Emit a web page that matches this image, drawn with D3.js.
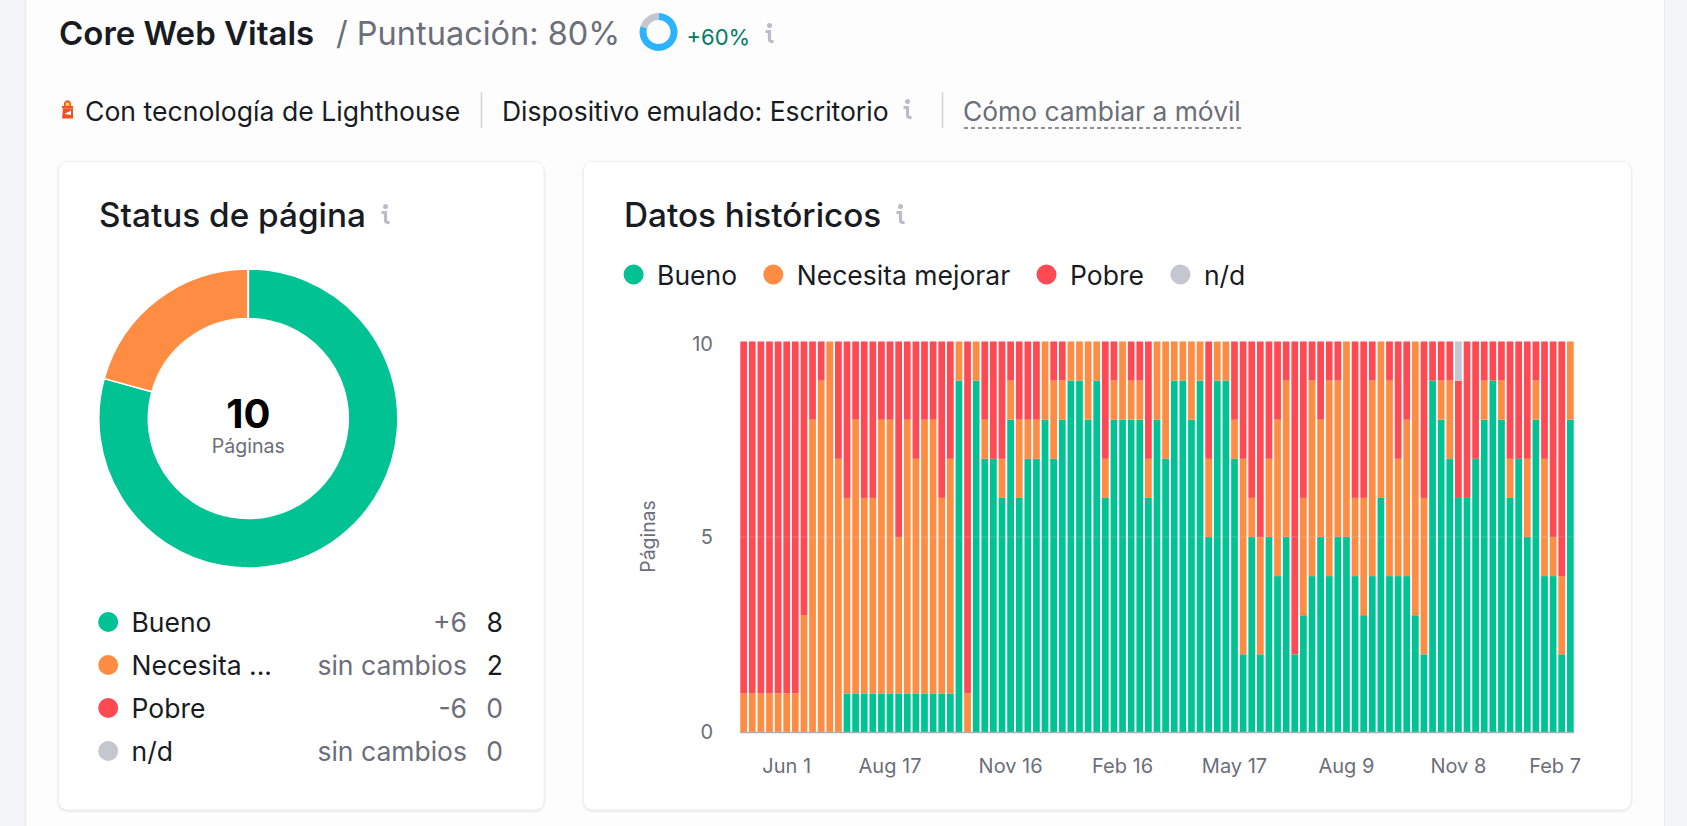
<!DOCTYPE html>
<html lang="es">
<head>
<meta charset="UTF-8">
<title>Core Web Vitals</title>
<script src="https://cdn.jsdelivr.net/npm/d3@7"></script>
<style>
	html, body { margin: 0; padding: 0; background: #f4f5f9; overflow: hidden; }
	text { font-family: Inter, "Noto Sans", sans-serif; }
	.axis path, .axis line { display: none; }
	.axis text { font-family: Inter, sans-serif; font-size: 20px; fill: #6c6e79; }
</style>
</head>
<body>
<script>
// historic stacked bars, one value per week
var weeks = d3.range(97);
var bueno = [0,0,0,0,0,0,0,0,0,0,0,0,1,1,1,1,1,1,1,1,1,1,1,1,1,9,0,9,7,7,6,8,6,7,7,8,7,8,9,9,8,9,6,8,8,8,8,6,8,7,9,9,8,9,5,9,9,7,2,5,2,5,4,5,2,3,4,5,4,5,5,4,3,4,6,4,4,4,3,2,9,8,7,6,6,7,8,9,8,6,7,5,8,4,4,2,8];
var necesita = [1,1,1,1,1,1,1,3,8,9,10,7,5,7,5,5,7,7,4,7,6,7,7,5,6,1,1,1,1,0,1,1,2,1,1,2,2,1,1,1,2,1,1,1,2,1,1,1,2,3,1,1,2,1,2,1,1,1,5,1,3,2,4,4,0,3,5,3,5,4,5,2,3,5,4,5,3,4,7,4,0,1,2,0,0,0,1,0,1,1,0,2,1,3,1,2,2];
var pobre = [9,9,9,9,9,9,9,7,2,1,0,3,4,2,4,4,2,2,5,2,3,2,2,4,3,0,9,0,2,3,3,1,2,2,2,0,1,1,0,0,0,0,3,1,0,1,1,3,0,0,0,0,0,0,3,0,0,2,3,4,5,3,2,1,8,4,1,2,1,1,0,4,4,1,0,1,3,2,0,4,1,1,1,3,4,3,1,1,1,3,3,3,1,3,5,6,0];
var nd = [0,0,0,0,0,0,0,0,0,0,0,0,0,0,0,0,0,0,0,0,0,0,0,0,0,0,0,0,0,0,0,0,0,0,0,0,0,0,0,0,0,0,0,0,0,0,0,0,0,0,0,0,0,0,0,0,0,0,0,0,0,0,0,0,0,0,0,0,0,0,0,0,0,0,0,0,0,0,0,0,0,0,0,1,0,0,0,0,0,0,0,0,0,0,0,0,0];

var tickWeeks = [5, 17, 31, 44, 57, 70, 83, 94];
var tickLabels = ['Jun 1', 'Aug 17', 'Nov 16', 'Feb 16', 'May 17', 'Aug 9', 'Nov 8', 'Feb 7'];
var yTicks = [0, 5, 10];

// page status donut + its table
var statusNames = ['Bueno', 'Necesita ...', 'Pobre', 'n/d'];
var statusChange = ['+6', 'sin cambios', '-6', 'sin cambios'];
var statusCount = [8, 2, 0, 0];
// the drawn ring is not exactly 80/20, this is what the picture shows
var statusShare = [79.3, 20.7, 0, 0];
var legendNames = ['Bueno', 'Necesita mejorar', 'Pobre', 'n/d'];
var seriesColors = ['#00c292', '#ff8c43', '#ff4953', '#c4c7cf'];
var scoreParts = [80, 20];

var ink = '#191b23', grey = '#6c6e79', iconGrey = '#b9bcc9';

var svg = d3.select('body').append('svg')
	.attr('width', 1687)
	.attr('height', 826)
	.style('display', 'block');

function label(parent, str, x, y, size, color, weight, anchor) {
	return parent.append('text')
		.attr('x', x).attr('y', y)
		.attr('font-size', size)
		.attr('fill', color)
		.attr('font-weight', weight || 400)
		.attr('text-anchor', anchor || 'start')
		.text(str);
}

// little "i" hint icon
function info(x, y) {
	var g = svg.append('g').attr('transform', 'translate(' + x + ',' + y + ')')
		.attr('fill', 'none').attr('stroke', iconGrey);
	g.append('circle').attr('cx', 0.5).attr('cy', -7.5).attr('r', 2.5).attr('fill', iconGrey).attr('stroke', 'none');
	g.append('path').attr('stroke-width', 3.2)
		.attr('d', 'M-3.5,-1.5H0.5V6.5Q0.5,8.7 4.5,8.7');
}

function card(x, y, w, h) {
	svg.append('rect')
		.attr('x', x).attr('y', y).attr('width', w).attr('height', h)
		.attr('rx', 9)
		.attr('fill', '#fff')
		.attr('stroke', '#eff0f3')
		.style('filter', 'drop-shadow(0 1px 1px rgba(30,35,60,.12))');
}

// page background panel
svg.append('rect').attr('x', 26).attr('y', -10).attr('width', 1638).attr('height', 850).attr('fill', '#fdfdfe')
	.style('filter', 'drop-shadow(0 0 1px rgba(30,35,60,.15))');

// header
label(svg, 'Core Web Vitals', 59, 45, 33, ink, 600);
label(svg, '/ Puntuación: 80%', 336, 45, 32.5, grey, 400);

var smallArc = d3.arc().innerRadius(12).outerRadius(19);
var smallPie = d3.pie().sort(null);
svg.append('g').attr('transform', 'translate(658.5,32)')
	.selectAll('path')
	.data(smallPie(scoreParts))
	.enter().append('path')
	.attr('d', smallArc)
	.attr('fill', function (d, i) { return i === 0 ? '#2bb3ff' : '#c4c7cf'; });

label(svg, '+60%', 686.5, 45, 22, '#007c65', 400);
info(769, 33);

// lighthouse icon
var lh = svg.append('g').attr('transform', 'translate(61,99)');
lh.append('path').attr('d', 'M3,7V3.5Q6.5,-1 10,3.5V7Z').attr('fill', '#f4511e');
lh.append('rect').attr('x', 4.5).attr('y', 3.5).attr('width', 4).attr('height', 4).attr('fill', '#ffc94d');
lh.append('rect').attr('x', 1).attr('y', 7).attr('width', 11).attr('height', 2.5).attr('fill', '#f4511e');
lh.append('path').attr('d', 'M2,9.5H12V19.5H1Z').attr('fill', '#f4511e');
lh.append('path').attr('d', 'M3.5,15L10,11.5V16Z').attr('fill', '#fff');

label(svg, 'Con tecnología de Lighthouse', 85, 121, 26.6, ink);
svg.append('line').attr('x1', 481.5).attr('x2', 481.5).attr('y1', 92).attr('y2', 128).attr('stroke', '#d1d4db').attr('stroke-width', 1.5);
label(svg, 'Dispositivo emulado: Escritorio', 502, 121, 26.5, ink);
info(907, 109);
svg.append('line').attr('x1', 942.5).attr('x2', 942.5).attr('y1', 92).attr('y2', 128).attr('stroke', '#d1d4db').attr('stroke-width', 1.5);
label(svg, 'Cómo cambiar a móvil', 963, 121, 26.4, grey);
svg.append('line').attr('x1', 964).attr('x2', 1241).attr('y1', 128).attr('y2', 128)
	.attr('stroke', grey).attr('stroke-width', 1.3).attr('stroke-dasharray', '4 3');

// left card
card(58.5, 161.5, 485.5, 648.5);
label(svg, 'Status de página', 99, 227, 33.3, ink, 500);
info(385, 214);

var arc = d3.arc().innerRadius(100).outerRadius(149.5);
var pie = d3.pie().sort(null);
var donut = svg.append('g').attr('transform', 'translate(248.3,418.5)');
donut.selectAll('path')
	.data(pie(statusShare))
	.enter().append('path')
	.attr('d', arc)
	.attr('fill', function (d, i) { return seriesColors[i]; })
	.attr('stroke', '#fff')
	.attr('stroke-width', 1.5);
label(donut, '10', 0, 9, 40, '#000', 700, 'middle');
label(donut, 'Páginas', 0, 34, 19.6, grey, 400, 'middle');

var rowY = d3.scalePoint().domain(d3.range(4)).range([622, 751]);
var rows = svg.selectAll('.row').data(statusNames).enter().append('g').attr('class', 'row')
	.attr('transform', function (d, i) { return 'translate(0,' + rowY(i) + ')'; });
rows.append('circle').attr('cx', 108.2).attr('r', 10).attr('fill', function (d, i) { return seriesColors[i]; });
rows.append('text').attr('x', 131.5).attr('y', 9.5).attr('font-size', 26.5).attr('fill', ink).text(function (d) { return d; });
rows.append('text').attr('x', 467).attr('y', 9.5).attr('font-size', 26.5).attr('fill', grey).attr('text-anchor', 'end')
	.text(function (d, i) { return statusChange[i]; });
rows.append('text').attr('x', 503).attr('y', 9.5).attr('font-size', 26.5).attr('text-anchor', 'end')
	.attr('fill', function (d, i) { return statusCount[i] > 0 ? ink : grey; })
	.text(function (d, i) { return statusCount[i]; });

// right card
card(583.5, 161.5, 1047.5, 648.5);
label(svg, 'Datos históricos', 624, 227, 33.3, ink, 500);
info(900, 214);

var legendX = [633.6, 773.3, 1046.5, 1180.4];
var legend = svg.selectAll('.lg').data(legendNames).enter().append('g').attr('class', 'lg')
	.attr('transform', function (d, i) { return 'translate(' + legendX[i] + ',274.5)'; });
legend.append('circle').attr('r', 10).attr('fill', function (d, i) { return seriesColors[i]; });
legend.append('text').attr('x', 23.5).attr('y', 10).attr('font-size', 26.5).attr('fill', ink).text(function (d) { return d; });

// stacked bars
var table = weeks.map(function (w, i) {
	return {week: w, bueno: bueno[i], necesita: necesita[i], pobre: pobre[i], nd: nd[i]};
});
var series = d3.stack().keys(['bueno', 'necesita', 'pobre', 'nd'])(table);

var x = d3.scaleBand().domain(weeks).range([740.3, 1573.7]).paddingInner(0.22).paddingOuter(0);
var y = d3.scaleLinear().domain([0, 10]).range([732.5, 341.5]);

svg.selectAll('.layer')
	.data(series)
	.enter().append('g')
	.attr('class', 'layer')
	.attr('fill', function (d, i) { return seriesColors[i]; })
	.selectAll('rect')
	.data(function (d) { return d; })
	.enter().append('rect')
	.attr('x', function (d) { return x(d.data.week); })
	.attr('y', function (d) { return y(d[1]); })
	.attr('width', x.bandwidth())
	.attr('height', function (d) { return y(d[0]) - y(d[1]); });

// faint grid line over the bars, then the baseline
svg.append('line').attr('x1', 740).attr('x2', 1574).attr('y1', y(5)).attr('y2', y(5))
	.attr('stroke', '#e6e7ec').attr('stroke-opacity', 0.22);
svg.append('line').attr('x1', 740).attr('x2', 1574).attr('y1', y(0)).attr('y2', y(0))
	.attr('stroke', '#a9afb8').attr('stroke-width', 1.3);

var xAxis = svg.append('g').attr('class', 'axis')
	.attr('transform', 'translate(0,' + y(0) + ')')
	.call(d3.axisBottom(x).tickValues(tickWeeks).tickSize(0).tickPadding(26)
		.tickFormat(function (d) { return tickLabels[tickWeeks.indexOf(d)]; }));
// last label is nudged right of its bar in the original
xAxis.selectAll('.tick text').filter(function (d) { return d === 94; }).attr('x', 2);

var yAxis = svg.append('g').attr('class', 'axis')
	.attr('transform', 'translate(713,0)')
	.call(d3.axisLeft(y).tickValues(yTicks).tickSize(0).tickPadding(0));
// top label sits a bit lower than its tick, as in the original
yAxis.selectAll('.tick text').filter(function (d) { return d === 10; }).attr('y', 3);

label(svg, 'Páginas', 0, 0, 19.4, grey, 400, 'middle')
	.attr('transform', 'translate(655,536.5) rotate(-90)');
</script>
</body>
</html>
